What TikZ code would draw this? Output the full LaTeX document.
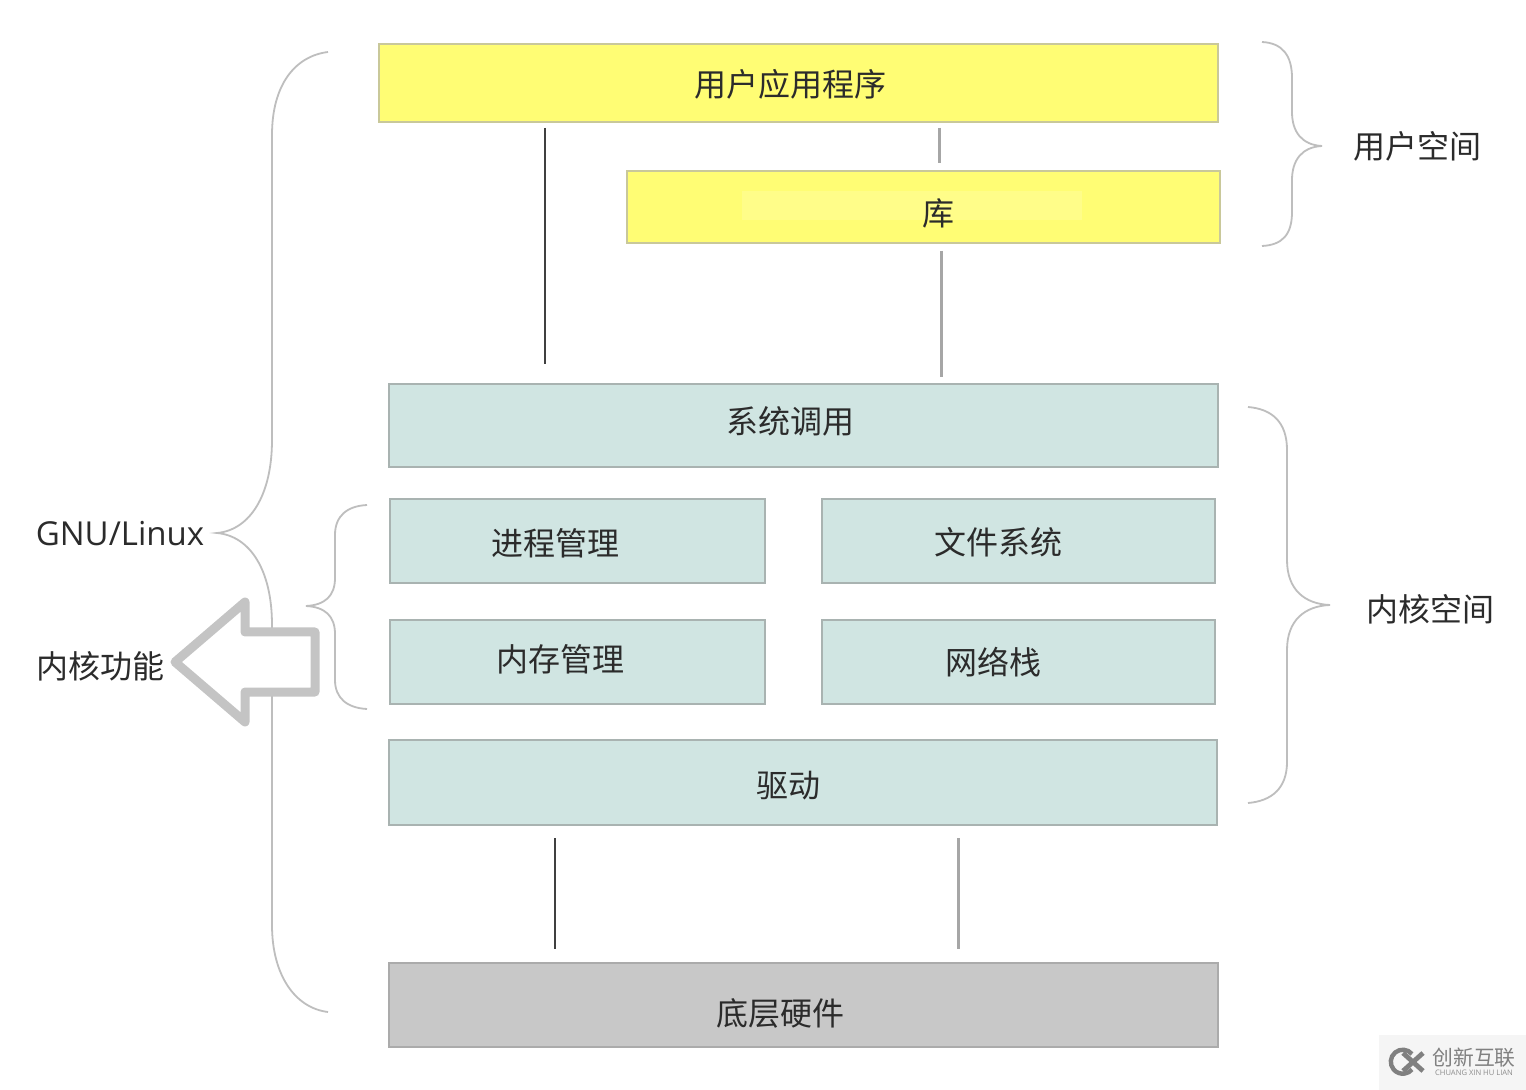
\documentclass[tikz,border=0pt]{standalone}
\usepackage{fontspec}
\usetikzlibrary{fit}
\setmainfont{Noto Sans CJK SC}
\newfontfamily\latinfont{Open Sans}
\definecolor{yellowbox}{HTML}{FFFD74}
\definecolor{yellowedge}{HTML}{C9C89A}
\definecolor{tealbox}{HTML}{D0E5E2}
\definecolor{tealedge}{HTML}{A9B3B1}
\definecolor{greybox}{HTML}{C8C8C8}
\definecolor{greyedge}{HTML}{ABABAB}
\definecolor{ink}{HTML}{2B2B2B}
\definecolor{bracecol}{HTML}{BEBEBE}
\tikzset{
  x=0.5pt,y=-0.5pt,
  boxbase/.style={draw,line width=1pt,inner sep=0pt,rectangle},
  yellowb/.style={boxbase,fill=yellowbox,draw=yellowedge},
  tealb/.style={boxbase,fill=tealbox,draw=tealedge},
  greyb/.style={boxbase,fill=greybox,draw=greyedge},
  lbl/.style={text=ink,font=\fontsize{16}{18}\selectfont,inner sep=0pt},
  thinlink/.style={draw=black!75,line width=0.6pt},
  greylink/.style={draw=black!35,line width=1.5pt},
  bracel/.style={draw=bracecol,line width=0.9pt},
}
\begin{document}
\begin{tikzpicture}
\useasboundingbox (0,0) rectangle (1526,1090);
\fill[white] (0,0) rectangle (1526,1090);

% outer GNU/Linux brace
\draw[bracel] (328,52) .. controls (295,56) and (272,85) .. (272,135)
  -- (272,440) .. controls (272,495) and (250,530) .. (217,533)
  .. controls (250,536) and (272,570) .. (272,625)
  -- (272,925) .. controls (272,975) and (295,1008) .. (328,1012);

% boxes
\node[yellowb,fit={(379,44)(1218,122)}] (app) {};
\node[yellowb,fit={(627,171)(1220,243)}] (lib) {};
\fill[yellowbox!85!white] (742,191) rectangle (1082,220);
\node[tealb,fit={(389,384)(1218,467)}] (sys) {};
\node[tealb,fit={(390,499)(765,583)}] (proc) {};
\node[tealb,fit={(822,499)(1215,583)}] (fs) {};
\node[tealb,fit={(390,620)(765,704)}] (mem) {};
\node[tealb,fit={(822,620)(1215,704)}] (net) {};
\node[tealb,fit={(389,740)(1217,825)}] (drv) {};
\node[greyb,fit={(389,963)(1218,1047)}] (hw) {};

% box texts
\node[lbl] (tapp) at (790,84) {用户应用程序};
\node[lbl] (tlib) at (938,213) {库};
\node[lbl] (tsys) at (790,421) {系统调用};
\node[lbl] (tproc) at (555,543) {进程管理};
\node[lbl] (tfs) at (998,542) {文件系统};
\node[lbl] (tmem) at (560,659) {内存管理};
\node[lbl] (tnet) at (993,662) {网络栈};
\node[lbl] (tdrv) at (788,786) {驱动};
\node[lbl] (thw) at (780,1013) {底层硬件};

% connectors
\coordinate (a1) at (545,128); \coordinate (a2) at (545,364);
\coordinate (b1) at (939,128); \coordinate (b2) at (939,163);
\coordinate (c1) at (941,251); \coordinate (c2) at (941,377);
\coordinate (d1) at (555,838); \coordinate (d2) at (555,949);
\coordinate (e1) at (958,838); \coordinate (e2) at (958,949);
\draw[thinlink] (a1) -- (a2);
\draw[greylink] (b1) -- (b2);
\draw[greylink] (c1) -- (c2);
\draw[thinlink] (d1) -- (d2);
\draw[greylink] (e1) -- (e2);

% user-space brace
\draw[bracel] (1262,42) .. controls (1282,43) and (1292,55) .. (1292,78)
  -- (1292,112) .. controls (1292,132) and (1302,145) .. (1322,146)
  .. controls (1302,147) and (1292,160) .. (1292,180)
  -- (1292,212) .. controls (1292,235) and (1282,245) .. (1262,246);
% kernel-space brace
\draw[bracel] (1248,407) .. controls (1272,409) and (1287,422) .. (1287,450)
  -- (1287,560) .. controls (1287,590) and (1305,604) .. (1330,605)
  .. controls (1305,606) and (1287,620) .. (1287,650)
  -- (1287,762) .. controls (1287,788) and (1272,801) .. (1248,803);
% kernel-functions brace
\draw[bracel] (367,505) .. controls (347,506) and (335,516) .. (335,535)
  -- (335,578) .. controls (335,596) and (325,605) .. (306,606)
  .. controls (325,607) and (335,616) .. (335,634)
  -- (335,680) .. controls (335,698) and (347,708) .. (367,709);

% arrow
\draw[draw=black!23,fill=white,line width=4.5pt,line join=round]
  (175,662) -- (245,602) -- (245,632) -- (315,632) -- (315,692) -- (245,692) -- (245,722) -- cycle;

% side labels
\node[lbl] (tuser) at (1417,146) {用户空间};
\node[lbl] (tkern) at (1430,609) {内核空间};
\node[lbl,font=\latinfont\fontsize{16.5}{18}\selectfont] (tgnu) at (120,534) {GNU/Linux};
\node[lbl] (tfunc) at (100,666) {内核功能};

% watermark
\fill[black!4] (1379,1035) rectangle (1526,1090);
\draw[black!50,line width=2.2pt] (1412,1054) arc[start angle=-40,end angle=-320,radius=12];
\draw[black!50,line width=2.4pt] (1403,1053) -- (1423,1071);
\draw[black!50,line width=2.4pt] (1403,1071) -- (1423,1053);
\node[inner sep=0pt,text=black!50,font=\fontsize{10.4}{11}\selectfont] (wm) at (1474,1058) {创新互联};
\node[inner sep=0pt,text=black!45,font=\latinfont\fontsize{3.8}{5}\selectfont] (wm2) at (1474,1073) {CHUANG XIN HU LIAN};
\end{tikzpicture}
\end{document}
